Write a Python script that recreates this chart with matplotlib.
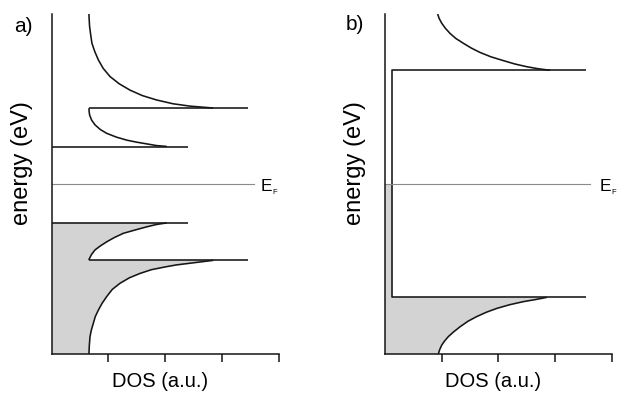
import numpy as np
import matplotlib
matplotlib.use('Agg')
import matplotlib.pyplot as plt

plt.rcParams['font.family'] = ['Liberation Sans', 'DejaVu Sans']

# energy axis runs 0..10, Fermi level in the middle
E_F = 5.0

# ---- panel a) : semiconductor with 1D van Hove peaks
a_cb_upper_x = [0.658, 0.662, 0.670, 0.690, 0.711, 0.760, 0.824, 0.910, 1.030, 1.190, 1.383, 1.600, 1.854, 2.140, 2.441, 2.847]
a_cb_upper_y = [10.0, 9.85, 9.63, 9.38, 9.14, 8.90, 8.65, 8.40, 8.16, 7.95, 7.76, 7.60, 7.47, 7.36, 7.29, 7.235]
a_cb_lower_x = [0.658, 0.662, 0.670, 0.705, 0.765, 0.860, 0.972, 1.140, 1.325, 1.500, 1.677, 1.850, 2.030]
a_cb_lower_y = [7.23, 7.13, 7.03, 6.88, 6.74, 6.60, 6.49, 6.38, 6.29, 6.23, 6.18, 6.13, 6.105]
a_vb_upper_x = [2.030, 1.850, 1.677, 1.500, 1.265, 1.100, 0.972, 0.860, 0.765, 0.705, 0.677, 0.662, 0.658]
a_vb_upper_y = [3.855, 3.81, 3.74, 3.66, 3.55, 3.42, 3.30, 3.18, 3.06, 2.93, 2.84, 2.79, 2.76]
a_vb_lower_x = [2.852, 2.441, 2.200, 2.030, 1.760, 1.559, 1.370, 1.206, 1.070, 0.972, 0.890, 0.824, 0.770, 0.735, 0.700, 0.677, 0.665, 0.658]
a_vb_lower_y = [2.755, 2.67, 2.62, 2.57, 2.48, 2.37, 2.24, 2.08, 1.90, 1.69, 1.49, 1.29, 1.10, 0.90, 0.70, 0.51, 0.25, 0.0]
a_edge_E = [7.23, 6.10, 3.86, 2.76]
a_edge_from = [0.658, 0.0, 0.0, 0.658]
a_edge_to = [3.47, 2.40, 2.40, 3.47]
a_ef_to = 3.57

# ---- panel b) : metal with flat DOS
b_cb_x = [0.929, 0.955, 1.0, 1.065, 1.146, 1.250, 1.381, 1.520, 1.675, 1.870, 2.086, 2.290, 2.499, 2.700, 2.910]
b_cb_y = [10.0, 9.87, 9.73, 9.58, 9.43, 9.28, 9.14, 9.00, 8.87, 8.74, 8.63, 8.53, 8.45, 8.39, 8.345]
b_vb_x = [2.852, 2.650, 2.440, 2.200, 1.970, 1.790, 1.617, 1.460, 1.323, 1.210, 1.116, 1.050, 1.000, 0.965, 0.940]
b_vb_y = [1.665, 1.60, 1.54, 1.45, 1.34, 1.23, 1.10, 0.96, 0.80, 0.65, 0.51, 0.38, 0.26, 0.13, 0.0]
b_edge_E = [8.34, 1.67]
b_flat = 0.129
b_edge_to = 3.545
b_ef_to = 3.62

line_kw = dict(color='#151515', lw=1.15, solid_capstyle='butt', solid_joinstyle='round')
fill_col = '#d3d3d3'

fig = plt.figure(figsize=(6.2, 3.95), dpi=100)
ax_a = fig.add_axes([51.6/620, 41/395, 226.9/620, 340/395])
ax_b = fig.add_axes([385/620, 41/395, 226.8/620, 340/395])

# panel a
poly_x = np.concatenate([[0.0], a_vb_lower_x[::-1], [a_vb_lower_x[0], a_edge_from[3]], a_vb_upper_x[::-1], [0.0]])
poly_y = np.concatenate([[0.0], a_vb_lower_y[::-1], [a_edge_E[3], a_edge_E[3]], a_vb_upper_y[::-1], [a_edge_E[2]]])
ax_a.fill(poly_x, poly_y, color=fill_col, lw=0)
ax_a.plot(a_cb_upper_x, a_cb_upper_y, **line_kw)
ax_a.plot(a_cb_lower_x, a_cb_lower_y, **line_kw)
ax_a.plot(a_vb_upper_x, a_vb_upper_y, **line_kw)
ax_a.plot(a_vb_lower_x, a_vb_lower_y, **line_kw)
for e, x0, x1 in zip(a_edge_E, a_edge_from, a_edge_to):
    ax_a.plot([x0, x1], [e, e], **line_kw)
ax_a.plot([0, a_ef_to], [E_F, E_F], color='#8a8a8a', lw=0.8)
ax_a.text(3.688, 4.80, 'E', fontsize=12.5, va='baseline', ha='left')
ax_a.text(3.887, 4.71, 'F', fontsize=5.5, va='baseline', ha='left')

# panel b
poly_x = np.concatenate([[0.0], b_vb_x[::-1], [b_vb_x[0], b_flat, b_flat, 0.0]])
poly_y = np.concatenate([[0.0], b_vb_y[::-1], [b_edge_E[1], b_edge_E[1], E_F, E_F]])
ax_b.fill(poly_x, poly_y, color=fill_col, lw=0)
ax_b.plot(b_cb_x, b_cb_y, **line_kw)
ax_b.plot(b_vb_x, b_vb_y, **line_kw)
ax_b.plot([b_edge_to, b_flat, b_flat, b_edge_to], [b_edge_E[0], b_edge_E[0], b_edge_E[1], b_edge_E[1]], **line_kw)
ax_b.plot([0, b_ef_to], [E_F, E_F], color='#8a8a8a', lw=0.8)
ax_b.text(3.78, 4.80, 'E', fontsize=12.5, va='baseline', ha='left')
ax_b.text(3.985, 4.71, 'F', fontsize=5.5, va='baseline', ha='left')

for ax in (ax_a, ax_b):
    ax.set_xlim(0, 4)
    ax.set_ylim(0, 10)
    for s in ('top', 'right'):
        ax.spines[s].set_visible(False)
    for s in ('left', 'bottom'):
        ax.spines[s].set_linewidth(1.1)
        ax.spines[s].set_color('#151515')
    ax.set_xticks([1, 2, 3, 4])
    ax.set_xticklabels([])
    ax.set_yticks([])
    ax.tick_params(axis='x', direction='out', length=6, width=1.1, color='#151515')
    ax.set_xlabel('DOS (a.u.)', fontsize=14.5)
    ax.xaxis.set_label_coords(0.478, -0.052)
    ax.set_ylabel('energy (eV)', fontsize=17)
    ax.yaxis.set_label_coords(-0.082, 0.562)
    ax.yaxis.label.set_va('bottom')

fig.text(23/620, 1 - 26/395, 'a)', fontsize=15, ha='center', va='center')
fig.text(355/620, 1 - 25/395, 'b)', fontsize=15, ha='center', va='center')

fig.savefig('out.png', dpi=100)
